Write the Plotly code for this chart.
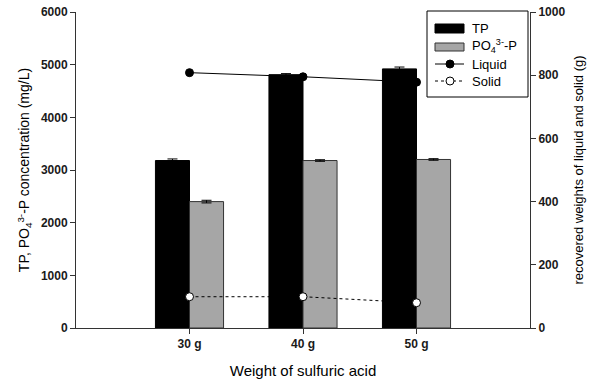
import plotly.graph_objects as go

categories = ["30 g", "40 g", "50 g"]
cat_pos = [1, 2, 3]
tp_values = [3180, 4810, 4920]
tp_err = [30, 20, 35]
po4_values = [2400, 3180, 3200]
po4_err = [25, 15, 15]
liquid_values = [808, 795, 778]
solid_values = [99, 99, 80]
legend_labels = ["TP", "PO<sub>4</sub><sup>3-</sup>-P", "Liquid", "Solid"]

font_family = "Liberation Sans, Arial, sans-serif"
tick_font = dict(size=12, weight="bold", color="#1a1a1a", family=font_family)
axis_color = "#333333"

W, H = 600, 384
L, R, T, B = 76, 70, 12, 56
PW, PH = W - L - R, H - T - B


def px(xp):
    return (xp - L) / PW


def py(yp):
    return (H - B - yp) / PH


fig = go.Figure()
fig.add_trace(go.Bar(
    x=cat_pos, y=tp_values, name=legend_labels[0], width=0.3, offset=-0.3,
    marker=dict(color="black", line=dict(color="black", width=1)),
    error_y=dict(type="data", array=tp_err, color="black", thickness=1, width=5),
))
fig.add_trace(go.Bar(
    x=cat_pos, y=po4_values, name=legend_labels[1], width=0.3, offset=0,
    marker=dict(color="#a6a6a6", line=dict(color="#333333", width=1)),
    error_y=dict(type="data", array=po4_err, color="black", thickness=1, width=5),
))
fig.add_trace(go.Scatter(
    x=cat_pos, y=liquid_values, name=legend_labels[2], yaxis="y2", mode="lines+markers",
    line=dict(color="black", width=1),
    marker=dict(color="black", size=8, line=dict(color="black", width=1)),
))
fig.add_trace(go.Scatter(
    x=cat_pos, y=solid_values, name=legend_labels[3], yaxis="y2", mode="lines+markers",
    line=dict(color="black", width=1, dash="dot"),
    marker=dict(color="white", size=8, line=dict(color="black", width=1)),
))

# custom legend (box, symbols, labels) in paper coordinates
shapes = [
    dict(type="rect", xref="paper", yref="paper", x0=px(427), x1=px(528), y0=py(97), y1=py(11),
         line=dict(color="black", width=1), fillcolor="white", layer="above"),
    dict(type="rect", xref="paper", yref="paper", x0=px(435), x1=px(464), y0=py(33), y1=py(24),
         line=dict(color="black", width=1), fillcolor="black", layer="above"),
    dict(type="rect", xref="paper", yref="paper", x0=px(435), x1=px(464), y0=py(51), y1=py(43),
         line=dict(color="#333333", width=1), fillcolor="#a6a6a6", layer="above"),
    dict(type="line", xref="paper", yref="paper", x0=px(435), x1=px(464), y0=py(64), y1=py(64),
         line=dict(color="black", width=1), layer="above"),
    dict(type="circle", xref="paper", yref="paper", x0=px(446), x1=px(454), y0=py(68), y1=py(60),
         line=dict(color="black", width=1), fillcolor="black", layer="above"),
    dict(type="line", xref="paper", yref="paper", x0=px(435), x1=px(464), y0=py(81), y1=py(81),
         line=dict(color="black", width=1, dash="dot"), layer="above"),
    dict(type="circle", xref="paper", yref="paper", x0=px(446), x1=px(454), y0=py(85), y1=py(77),
         line=dict(color="black", width=1), fillcolor="white", layer="above"),
]
annotations = []
for lab, yp in zip(legend_labels, [28, 46, 64, 81]):
    annotations.append(dict(
        xref="paper", yref="paper", x=px(470), y=py(yp), xanchor="left", yanchor="middle",
        text=lab, showarrow=False, font=dict(size=13, family=font_family, color="black"),
    ))

fig.update_layout(
    width=W, height=H,
    margin=dict(l=L, r=R, t=T, b=B),
    plot_bgcolor="white", paper_bgcolor="white",
    font=dict(family=font_family, size=12, color="black"),
    barmode="overlay",
    showlegend=False,
    shapes=shapes,
    annotations=annotations,
    xaxis=dict(
        range=[0, 4], tickvals=cat_pos, ticktext=categories,
        showline=True, linecolor=axis_color, linewidth=1,
        ticks="outside", ticklen=5, tickcolor=axis_color,
        showgrid=False, zeroline=False, automargin=False,
        title=dict(text="Weight of sulfuric acid", font=dict(size=15), standoff=15),
        tickfont=tick_font,
    ),
    yaxis=dict(
        range=[0, 6000], dtick=1000,
        showline=True, linecolor=axis_color, linewidth=1,
        ticks="outside", ticklen=5, tickcolor=axis_color,
        showgrid=False, zeroline=False, automargin=False,
        title=dict(text="TP, PO<sub>4</sub><sup>3-</sup>-P concentration (mg/L)", font=dict(size=14), standoff=7),
        tickfont=tick_font,
    ),
    yaxis2=dict(
        range=[0, 1000], dtick=200, overlaying="y", side="right",
        showline=True, linecolor=axis_color, linewidth=1,
        ticks="outside", ticklen=5, tickcolor=axis_color,
        showgrid=False, zeroline=False, automargin=False,
        title=dict(text="recovered weights of liquid and solid (g)", font=dict(size=13), standoff=9),
        tickfont=tick_font,
    ),
)

fig.write_html("out.html", config={"displayModeBar": False},
               post_script="document.body.style.margin='0';")
